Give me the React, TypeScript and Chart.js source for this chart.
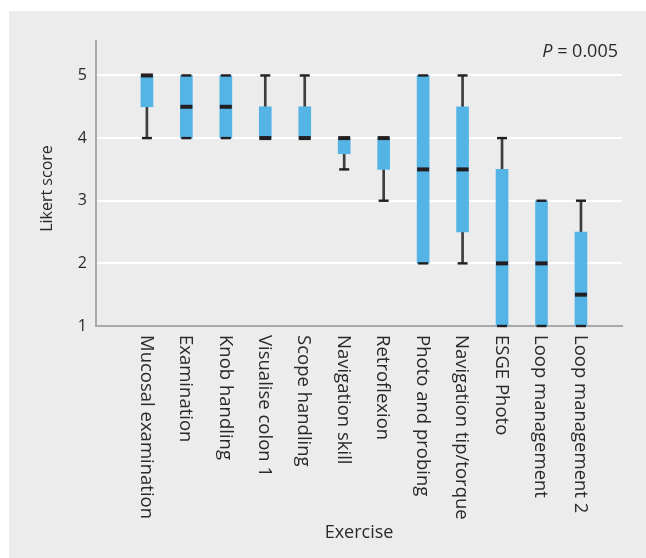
import React, { useEffect, useRef } from "react";
import Chart from "chart.js/auto";

const categories = [
  "Mucosal examination",
  "Examination",
  "Knob handling",
  "Visualise colon 1",
  "Scope handling",
  "Navigation skill",
  "Retroflexion",
  "Photo and probing",
  "Navigation tip/torque",
  "ESGE Photo",
  "Loop management",
  "Loop management 2",
];
const mins = [4, 4, 4, 4, 4, 3.5, 3, 2, 2, 1, 1, 1];
const q1s = [4.5, 4, 4, 4, 4, 3.75, 3.5, 2, 2.5, 1, 1, 1];
const medians = [5, 4.5, 4.5, 4, 4, 4, 4, 3.5, 3.5, 2, 2, 1.5];
const q3s = [5, 5, 5, 4.5, 4.5, 4, 4, 5, 4.5, 3.5, 3, 2.5];
const maxs = [5, 5, 5, 5, 5, 4, 4, 5, 5, 4, 3, 3];
const yTicks = [1, 2, 3, 4, 5];
const yTitle = "Likert score";
const xTitle = "Exercise";
const pLabel = { italic: "P", rest: " = 0.005" };

const FONT = "'Open Sans', 'Noto Sans', sans-serif";
const TEXT = "#2a2a2a";
const BOX = "#55b4e6";
const DARK = "#231f20";
const WHISK = "#3d3d3d";

const boxPlugin = {
  id: "boxExtras",
  afterDatasetsDraw(chart: any) {
    const { ctx, scales } = chart;
    const xs = scales.x;
    const ys = scales.y;
    ctx.save();
    ctx.fillStyle = DARK;
    categories.forEach((_, i) => {
      const x = xs.getPixelForValue(i);
      // caps
      [mins[i], maxs[i]].forEach((v) => {
        const y = ys.getPixelForValue(v);
        ctx.fillRect(x - 5, y - 1.2, 10, 2.4);
      });
      // median
      const ym = ys.getPixelForValue(medians[i]);
      ctx.fillRect(x - 6, ym - 2, 12, 4);
    });
    ctx.restore();
  },
  afterDraw(chart: any) {
    const { ctx, scales, chartArea } = chart;
    const xs = scales.x;
    ctx.save();
    ctx.fillStyle = TEXT;
    ctx.font = `18.5px ${FONT}`;
    ctx.textAlign = "left";
    ctx.textBaseline = "middle";
    categories.forEach((label, i) => {
      const x = xs.getPixelForValue(i) - 1;
      ctx.save();
      ctx.translate(x, xs.top + 9);
      ctx.rotate(Math.PI / 2);
      ctx.fillText(label, 0, 0);
      ctx.restore();
    });
    // y axis title
    ctx.save();
    ctx.font = `16px ${FONT}`;
    ctx.textAlign = "center";
    ctx.textBaseline = "middle";
    ctx.translate(47, (chartArea.top + chartArea.bottom) / 2 + 5);
    ctx.rotate(-Math.PI / 2);
    ctx.fillText(yTitle, 0, 0);
    ctx.restore();
    // P value annotation
    ctx.textBaseline = "alphabetic";
    ctx.font = `18px ${FONT}`;
    const restW = ctx.measureText(pLabel.rest).width;
    const right = chartArea.right - 4;
    ctx.textAlign = "right";
    ctx.fillText(pLabel.rest, right, 57);
    ctx.font = `italic 18px ${FONT}`;
    ctx.fillText(pLabel.italic, right - restW, 57);
    ctx.restore();
  },
};

export default function App() {
  const ref = useRef<HTMLCanvasElement | null>(null);
  useEffect(() => {
    document.body.style.margin = "0";
    const canvas = ref.current;
    if (!canvas) return;
    const chart = new Chart(canvas, {
      type: "bar",
      data: {
        datasets: [
          {
            label: "box",
            data: categories.map((_, i) => ({ x: i, y: [q1s[i], q3s[i]] })),
            backgroundColor: BOX,
            borderWidth: 0,
            barThickness: 12,
            grouped: false,
          } as any,
          {
            label: "whiskerLow",
            data: categories.map((_, i) => ({ x: i, y: [mins[i], q1s[i]] })),
            backgroundColor: WHISK,
            borderWidth: 0,
            barThickness: 2,
            grouped: false,
          } as any,
          {
            label: "whiskerHigh",
            data: categories.map((_, i) => ({ x: i, y: [q3s[i], maxs[i]] })),
            backgroundColor: WHISK,
            borderWidth: 0,
            barThickness: 2,
            grouped: false,
          } as any,
        ],
      },
      options: {
        animation: false,
        responsive: false,
        devicePixelRatio: 1,
        layout: { padding: { left: 0, top: 41, right: 24, bottom: 0 } },
        plugins: { legend: { display: false }, tooltip: { enabled: false } },
        scales: {
          x: {
            type: "linear",
            offset: false,
            z: 1,
            min: -1.29,
            max: 12.04,
            ticks: { display: false },
            grid: { display: false, drawTicks: false },
            border: { display: true, color: "#a8a9a8", width: 2 },
            title: {
              display: true,
              text: xTitle,
              color: TEXT,
              font: { family: FONT, size: 18 },
              padding: { top: 0, bottom: 14 },
            },
            afterFit: (s: any) => {
              s.height = 558 - 326;
            },
          },
          y: {
            type: "linear",
            min: 1,
            max: 5.55,
            afterBuildTicks: (s: any) => {
              s.ticks = yTicks.map((v) => ({ value: v }));
            },
            ticks: {
              color: TEXT,
              font: { family: FONT, size: 16 },
              padding: 9,
            },
            grid: { color: "#ffffff", lineWidth: 2, drawTicks: false },
            border: { display: true, color: "#a8a9a8", width: 2 },
            title: { display: false },
            afterFit: (s: any) => {
              s.width = 96;
            },
          },
        },
      },
      plugins: [boxPlugin],
    });
    return () => chart.destroy();
  }, []);
  return (
    <div
      style={{
        position: "fixed",
        left: 0,
        top: 0,
        width: 646,
        height: 558,
        background: "#ffffff",
        overflow: "hidden",
      }}
    >
      <div
        style={{
          position: "absolute",
          left: 9,
          top: 11,
          right: 0,
          bottom: 0,
          background: "#ebeceb",
        }}
      />
      <canvas
        ref={ref}
        width={646}
        height={558}
        style={{ position: "absolute", left: 0, top: 0, width: 646, height: 558 }}
      />
    </div>
  );
}
